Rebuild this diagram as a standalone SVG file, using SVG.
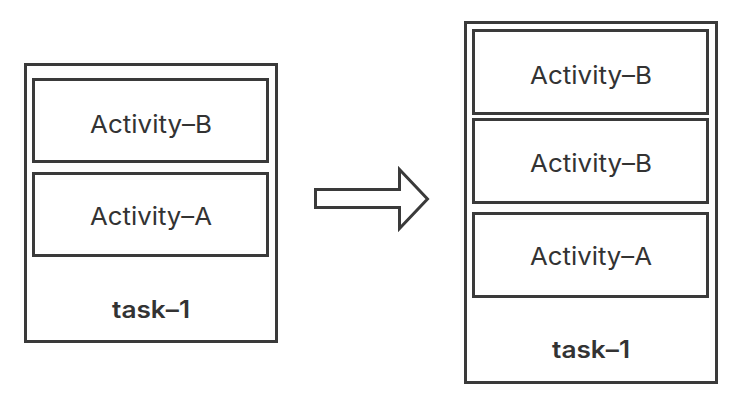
<svg xmlns="http://www.w3.org/2000/svg" width="744" height="412" viewBox="0 0 744 412">
<style>
.box{fill:#fff;stroke:#3a3a3a;stroke-width:3}
.t{font-family:Inter,"Liberation Sans",Arial,sans-serif;font-size:24.5px;fill:#333;text-anchor:middle}
.b{font-weight:600;font-size:24px}
</style>
<rect width="744" height="412" fill="#fff"/>
<g id="task-left">
<rect class="box" x="25.5" y="64.5" width="251" height="277"/>
<text class="t b" x="151" y="318" textLength="78" lengthAdjust="spacingAndGlyphs">task–1</text>
</g>
<g id="left-activity-b">
<rect class="box" x="33.5" y="79.5" width="234" height="82"/>
<text class="t" x="151" y="133" textLength="122" lengthAdjust="spacingAndGlyphs">Activity–B</text>
</g>
<g id="left-activity-a">
<rect class="box" x="33.5" y="173.5" width="234" height="82"/>
<text class="t" x="151" y="225" textLength="122" lengthAdjust="spacingAndGlyphs">Activity–A</text>
</g>
<g id="task-right">
<rect class="box" x="465.5" y="22.5" width="251" height="360"/>
<text class="t b" x="591" y="358" textLength="78" lengthAdjust="spacingAndGlyphs">task–1</text>
</g>
<g id="right-activity-b1">
<rect class="box" x="473.5" y="30.5" width="234" height="83"/>
<text class="t" x="591" y="84" textLength="122" lengthAdjust="spacingAndGlyphs">Activity–B</text>
</g>
<g id="right-activity-b2">
<rect class="box" x="473.5" y="119.5" width="234" height="83"/>
<text class="t" x="591" y="172" textLength="122" lengthAdjust="spacingAndGlyphs">Activity–B</text>
</g>
<g id="right-activity-a">
<rect class="box" x="473.5" y="213.5" width="234" height="83"/>
<text class="t" x="591" y="265" textLength="122" lengthAdjust="spacingAndGlyphs">Activity–A</text>
</g>
<g id="connectors">
<path d="M315.5 189.5 H399.5 V169.5 L427.5 199 L399.5 228.5 V207.5 H315.5 Z" fill="#fff" stroke="#3a3a3a" stroke-width="3" stroke-linejoin="miter"/>
</g>
</svg>
